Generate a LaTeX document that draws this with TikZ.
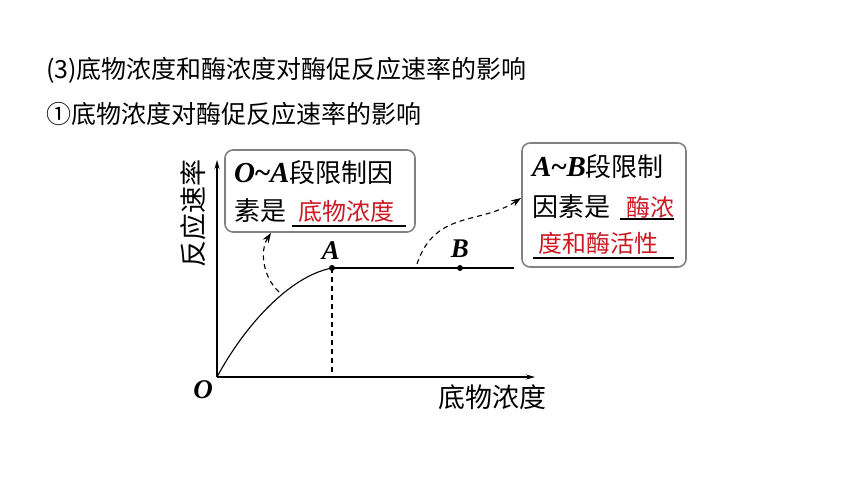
\documentclass[tikz,border=0pt]{standalone}
\usepackage{fontspec}
\newfontfamily\cjk{Noto Sans CJK SC}
\newfontfamily\tnr{Liberation Serif}
\usetikzlibrary{arrows.meta}
\definecolor{ansred}{RGB}{205,25,35}
\definecolor{boxgray}{RGB}{130,130,130}
\newcommand{\bivar}[1]{{\tnr\bfseries\itshape\fontsize{29}{30}\selectfont #1}}
\newcommand{\tld}{{\tnr\bfseries\fontsize{29}{30}\selectfont\char"7E}}
\tikzset{
  box/.style={draw=boxgray, line width=1.6pt, rounded corners=8pt, fill=white},
  txt/.style={inner sep=0pt, anchor=west, font=\cjk\fontsize{26}{30}\selectfont},
  red/.style={txt, text=ansred, font=\cjk\fontsize{24}{28}\selectfont},
  title/.style={inner sep=0pt, anchor=west, font=\cjk\fontsize{25}{28}\selectfont},
  axis/.style={line width=1.2pt, -{Stealth[length=9pt,width=5pt]}},
  dasharrow/.style={line width=1.1pt, dash pattern=on 5pt off 4pt, -{Stealth[length=10pt,width=7pt]}},
  ul/.style={line width=1.1pt},
  dot/.style={circle, fill=black, inner sep=0pt, minimum size=6pt},
  lbl/.style={inner sep=0pt, font=\tnr\bfseries\itshape\fontsize{27}{28}\selectfont}
}
\begin{document}
\begin{tikzpicture}[x=1pt,y=-1pt]
\useasboundingbox (0,0) rectangle (860,484);
% titles
\node[title] (t1) at (46,70) {(3)底物浓度和酶浓度对酶促反应速率的影响};
\node[title] (t2) at (46,114) {①底物浓度对酶促反应速率的影响};
% axes
\coordinate (O) at (217,377);
\coordinate (ytop) at (217,160);
\coordinate (xend) at (535,377);
\draw[axis] (O) -- (ytop);
\draw[axis] (O) -- (xend);
\node[lbl] (olbl) at (203,390) {O};
\node[txt, anchor=center, rotate=90, font=\cjk\fontsize{27}{30}\selectfont] (ylbl) at (193,213) {反应速率};
\node[txt, anchor=center, font=\cjk\fontsize{27}{30}\selectfont] (xlbl) at (492,397) {底物浓度};
% curve
\node[dot] (A) at (332,268) {};
\node[dot] (B) at (460,268) {};
\coordinate (lineend) at (514,268);
\coordinate (Afoot) at (332,377);
\node[lbl] (Albl) at (331,251) {A};
\node[lbl] (Blbl) at (460,249) {B};
\draw[line width=1.1pt] (O) .. controls (245,325) and (290,276) .. (A.center);
\draw[line width=1.1pt] (A.center) -- (lineend);
\draw[line width=1.1pt, dash pattern=on 5pt off 4pt] (A.center) -- (Afoot);
% boxes
\node[box, minimum width=190pt, minimum height=82pt] (b1) at (320,191) {};
\node[box, minimum width=164pt, minimum height=124pt] (b2) at (604,205) {};
% box 1 text
\node[txt] (b1l1) at (234,173) {\bivar{O}\tld\bivar{A}段限制因};
\node[txt] (b1l2) at (234,211) {素是};
\node[red] (b1r) at (298,211) {底物浓度};
\coordinate (u1a) at (292,226);
\coordinate (u1b) at (406,226);
\draw[ul] (u1a) -- (u1b);
% box 2 text
\node[txt] (b2l1) at (532,167) {\bivar{A}\tld\bivar{B}段限制};
\node[txt] (b2l2) at (532,207) {因素是};
\node[red] (b2r1) at (626,207) {酶浓};
\coordinate (u2a) at (620,219);
\coordinate (u2b) at (674,219);
\draw[ul] (u2a) -- (u2b);
\node[red] (b2r2) at (538,243) {度和酶活性};
\coordinate (u3a) at (533,258);
\coordinate (u3b) at (674,258);
\draw[ul] (u3a) -- (u3b);
% dashed arrows
\coordinate (c1s) at (279,292);
\coordinate (c1e) at (271,233);
\draw[dasharrow] (c1s) .. controls (262,276) and (260,250) .. (c1e);
\coordinate (c2s) at (417,264);
\coordinate (c2e) at (521,198);
\draw[dasharrow] (c2s) .. controls (435,210) and (480,225) .. (c2e);
\end{tikzpicture}
\end{document}
